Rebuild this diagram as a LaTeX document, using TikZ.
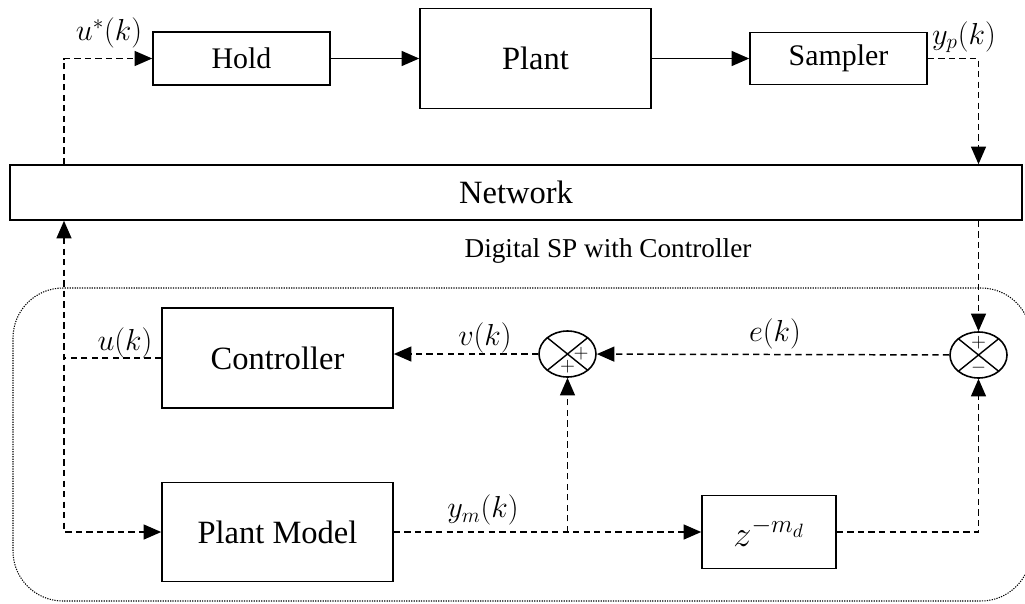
\documentclass[tikz,border=0pt]{standalone}
\usepackage{fontspec}
\setmainfont{Liberation Serif}
\usetikzlibrary{arrows.meta,shapes.geometric}
\begin{document}
\begin{tikzpicture}[>={Triangle[length=10pt,width=8.5pt]}, line width=0.9pt,
		box/.style={draw, inner sep=0pt, font=\fontsize{18.5}{22}\selectfont},
		smallbox/.style={draw, inner sep=0pt, font=\fontsize{17}{20}\selectfont},
		sig/.style={dash pattern=on 3.6pt off 2.4pt, line width=0.85pt},
		lbl/.style={font=\fontsize{18}{21}\selectfont, inner sep=1pt},
		sgn/.style={font=\fontsize{11}{13}\selectfont, inner sep=0pt},
		sumj/.style={draw, ellipse, minimum width=1.14cm, minimum height=0.92cm, inner sep=0pt,
			path picture={\draw[line width=0.8pt] (path picture bounding box.north west) -- (path picture bounding box.south east)
				(path picture bounding box.north east) -- (path picture bounding box.south west);}}]
			\useasboundingbox (0,0) rectangle (20.5,-12.06);
			\node[smallbox, minimum width=3.54cm, minimum height=1.06cm] (hold) at (4.83,-1.17) {Hold};
			\node[box, minimum width=4.62cm, minimum height=2cm] (plant) at (10.71,-1.17) {Plant};
			\node[smallbox, minimum width=3.54cm, minimum height=1.04cm] (samp) at (16.77,-1.17) {Sampler};
			\node[box, minimum width=20.24cm, minimum height=1.1cm] (net) at (10.32,-3.85) {Network};
			\node[box, minimum width=4.62cm, minimum height=2cm] (ctrl) at (5.55,-7.16) {Controller};
			\node[box, minimum width=4.62cm, minimum height=1.98cm] (pmod) at (5.55,-10.64) {Plant Model};
			\node[box, minimum width=2.68cm, minimum height=1.46cm, font=\fontsize{21}{24}\selectfont] (zd) at (15.38,-10.64) {$z^{-m_d}$};
			\node[sumj] (s1) at (11.35,-7.08) {};
			\node[sumj] (s2) at (19.57,-7.10) {};
			\node[sgn] (p1) at ([xshift=0.27cm]s1.center) {$+$};
			\node[sgn] (p2) at ([yshift=-0.26cm]s1.center) {$+$};
			\node[sgn] (p3) at ([yshift=0.24cm]s2.center) {$+$};
			\node[sgn] (m3) at ([yshift=-0.26cm]s2.center) {$-$};
			\coordinate (ux) at (1.28,0);
			\coordinate (jm) at (s1 |- pmod);
			\draw[->] (hold) -- (plant);
			\draw[->] (plant) -- (samp);
			\draw[sig,->] (samp.east) -| (s2 |- net.north);
			\draw[sig,->] (net.north -| ux) |- (hold.west);
			\draw[sig,->] (s2 |- net.south) -- (s2);
			\draw[sig,->] (s2) -- (s1);
			\draw[sig,->] (s1.west) -- (s1.west -| ctrl.east);
			\draw[sig] (ctrl.west) -- (ctrl.west -| ux);
			\draw[sig,<->] (net.south -| ux) |- (pmod.west);
			\draw[sig,->] (pmod) -- (zd);
			\draw[sig,->] (jm) -- (s1);
			\draw[sig,->] (zd.east) -| (s2.south);
			\draw[line width=0.6pt, dash pattern=on 0.7pt off 0.7pt, rounded corners=1cm] (0.26,-5.76) rectangle (20.62,-12.02);
			\node[lbl] (ustar) at (2.18,-0.66) {$u^*(k)$};
			\node[lbl, font=\fontsize{17}{20}\selectfont] (yp) at (19.28,-0.74) {$y_p(k)$};
			\node[lbl] (uk) at (2.5,-6.86) {$u(k)$};
			\node[lbl] (vk) at (9.7,-6.76) {$v(k)$};
			\node[lbl] (ek) at (15.5,-6.68) {$e(k)$};
			\node[lbl] (ymk) at (9.66,-10.2) {$y_m(k)$};
			\node[font=\fontsize{15.5}{18}\selectfont] (dsp) at (12.16,-5.02) {Digital SP with Controller};
		\end{tikzpicture}
\end{document}
